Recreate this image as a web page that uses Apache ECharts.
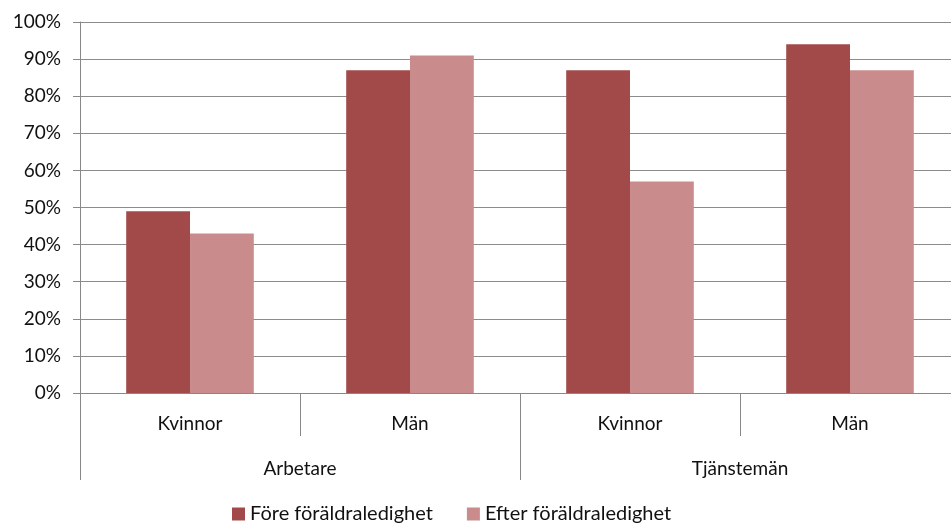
<!DOCTYPE html>
<html>
<head>
<meta charset="utf-8">
<script src="https://cdn.jsdelivr.net/npm/echarts@6/dist/echarts.min.js"></script>
<style>
  html, body { margin: 0; padding: 0; background: #fff; overflow: hidden; }
  /* the plot runs a little past the right edge of the picture */
  #chart { width: 960px; height: 527px; }
</style>
</head>
<body>
<div id="chart"></div>
<script>
  // sub categories and their groups
  var subCategories = ['Kvinnor', 'Män', 'Kvinnor', 'Män'];
  var groups = ['Arbetare', 'Tjänstemän'];
  var seriesNames = ['Före föräldraledighet', 'Efter föräldraledighet'];
  var fore = [49, 87, 87, 94];
  var efter = [43, 91, 57, 87];
  var yTicks = [0, 10, 20, 30, 40, 50, 60, 70, 80, 90, 100];

  var font = 'Lato';
  var chart = echarts.init(document.getElementById('chart'));

  chart.setOption({
    animation: false,
    color: ['#A24A4A', '#C98B8B'],
    textStyle: { fontFamily: font },
    grid: { left: 80, right: 0, top: 22, bottom: 134, containLabel: false },
    legend: {
      top: 504,
      left: 232,
      padding: 0,
      itemWidth: 13,
      itemHeight: 13,
      itemGap: 34,
      icon: 'rect',
      textStyle: { fontFamily: font, fontSize: 20, color: '#111' },
      data: seriesNames
    },
    xAxis: [
      {
        type: 'category',
        data: subCategories,
        position: 'bottom',
        axisLine: { lineStyle: { color: '#888', width: 1 } },
        axisTick: { show: true, length: 43, lineStyle: { color: '#888' } },
        axisLabel: { margin: 21, fontSize: 19, color: '#111', fontFamily: font }
      },
      {
        type: 'category',
        data: groups,
        position: 'bottom',
        offset: 43,
        axisLine: { show: false },
        axisTick: { show: true, length: 44, lineStyle: { color: '#888' } },
        axisLabel: { margin: 23, fontSize: 19, color: '#111', fontFamily: font }
      }
    ],
    yAxis: {
      type: 'value',
      min: yTicks[0],
      max: yTicks[yTicks.length - 1],
      interval: 10,
      axisLine: { show: true, lineStyle: { color: '#888' } },
      axisTick: { show: true, length: 7, lineStyle: { color: '#888' } },
      splitLine: { lineStyle: { color: '#8c8c8c', width: 1 } },
      axisLabel: {
        formatter: '{value}%',
        fontSize: 19,
        color: '#111',
        margin: 19,
        fontFamily: font
      }
    },
    series: [
      {
        name: seriesNames[0],
        type: 'bar',
        xAxisIndex: 0,
        data: fore,
        barGap: '0%',
        barCategoryGap: '42%'
      },
      {
        name: seriesNames[1],
        type: 'bar',
        xAxisIndex: 0,
        data: efter,
        barGap: '0%',
        barCategoryGap: '42%'
      }
    ]
  });
</script>
</body>
</html>
